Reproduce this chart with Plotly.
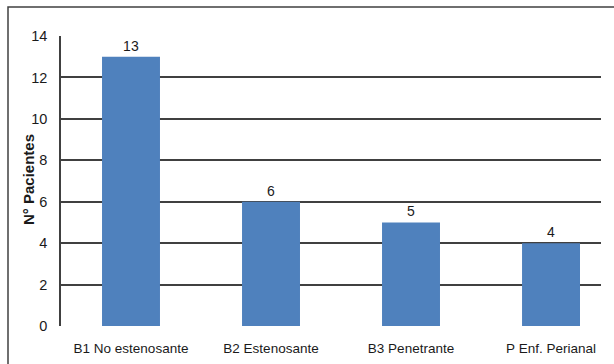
import plotly.graph_objects as go

# Patient counts by disease behaviour
categories = ["B1 No estenosante", "B2 Estenosante", "B3 Penetrante", "P Enf. Perianal"]
patients = [13, 6, 5, 4]
y_ticks = [0, 2, 4, 6, 8, 10, 12, 14]

FONT = "Liberation Sans Narrow, Arial Narrow, Liberation Sans, Arial, sans-serif"
BAR_BLUE = "#4F81BD"
LINE = "#404040"

fig = go.Figure(
    go.Bar(
        x=list(range(len(categories))),
        y=patients,
        width=0.414,
        marker=dict(color=BAR_BLUE, line=dict(width=0)),
        text=[str(v) for v in patients],
        textposition="outside",
        textfont=dict(family=FONT, size=14, color="#1a1a1a"),
        cliponaxis=False,
    )
)

fig.update_layout(
    width=614,
    height=364,
    margin=dict(l=61, r=13, t=36, b=38),
    paper_bgcolor="white",
    plot_bgcolor="white",
    showlegend=False,
    font=dict(family=FONT, size=14, color="#1a1a1a"),
    xaxis=dict(
        range=[-0.5, 3.357],
        tickmode="array",
        tickvals=list(range(len(categories))),
        ticktext=categories,
        showgrid=False,
        zeroline=False,
        showline=False,
        ticks="",
        automargin=False,
        ticklabelstandoff=12,
        tickfont=dict(family=FONT, size=13.5, color="#1a1a1a"),
    ),
    yaxis=dict(
        range=[0, 14],
        tickmode="array",
        tickvals=y_ticks,
        showgrid=True,
        gridcolor=LINE,
        gridwidth=1.5,
        zeroline=False,
        showline=True,
        linecolor=LINE,
        linewidth=1.5,
        ticks="",
        automargin=False,
        ticklabelstandoff=9,
        tickfont=dict(family=FONT, size=14.5, color="#1a1a1a"),
    ),
    shapes=[
        # outer chart frame
        dict(
            type="rect", xref="paper", yref="paper",
            x0=(8 - 61) / 540, x1=(640 - 61) / 540,
            y0=(326 - 380) / 290, y1=(326 - 7) / 290,
            line=dict(color=LINE, width=1.5),
            fillcolor="rgba(0,0,0,0)",
            layer="below",
        ),
    ],
    annotations=[
        dict(
            text="<b>N° Pacientes</b>",
            xref="paper", yref="paper",
            x=(28 - 61) / 540, y=(326 - 180) / 290,
            xanchor="center", yanchor="middle",
            textangle=-90,
            showarrow=False,
            font=dict(family=FONT, size=15, color="#1a1a1a"),
        )
    ],
)

fig.write_html("out.html")
